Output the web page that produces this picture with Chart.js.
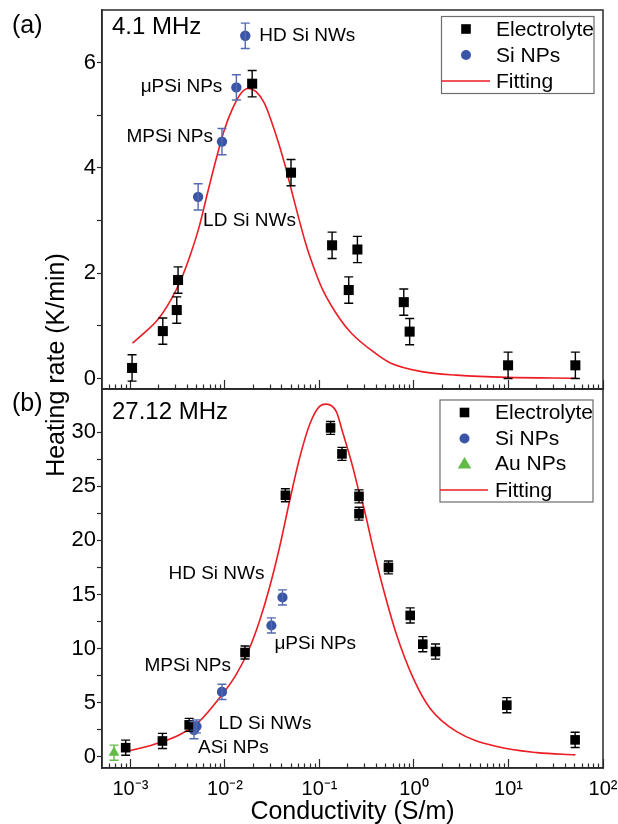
<!DOCTYPE html>
<html>
<head>
<meta charset="utf-8">
<script src="https://cdn.jsdelivr.net/npm/chart.js@4.4.0/dist/chart.umd.min.js"></script>
<style>
  html, body { margin: 0; padding: 0; background: #fff; overflow: hidden; }
  .wrap { position: relative; width: 618px; height: 824px; }
  .wrap canvas { position: absolute; left: 0; top: 0; }
</style>
</head>
<body>
<div class="wrap">
  <canvas id="chartA" width="618" height="824" style="width:618px;height:824px"></canvas>
  <canvas id="chartB" width="618" height="824" style="width:618px;height:824px"></canvas>
</div>
<script>
// panel (a) 4.1 MHz
const elecA_x = [0.00104, 0.0022, 0.00309, 0.00319, 0.0194, 0.050, 0.136, 0.204, 0.252, 0.78, 0.90, 9.9, 51];
const elecA_y = [0.20, 0.90, 1.30, 1.87, 5.60, 3.91, 2.53, 1.68, 2.45, 1.45, 0.89, 0.25, 0.25];
const elecA_err = [0.25, 0.25, 0.25, 0.25, 0.25, 0.25, 0.25, 0.25, 0.25, 0.25, 0.25, 0.25, 0.25];

const siA_names = ['LD Si NWs', 'MPSi NPs', 'μPSi NPs', 'HD Si NWs'];
const siA_x = [0.0052, 0.0093, 0.0132, 0.0164];
const siA_y = [3.45, 4.50, 5.53, 6.51];
const siA_err = [0.25, 0.25, 0.24, 0.24];

const fitA_x = [0.00105, 0.00139, 0.00193, 0.00267, 0.00341, 0.00436, 0.00533, 0.00653, 0.00802, 0.00984,
  0.01205, 0.01479, 0.01766, 0.02133, 0.02612, 0.03334, 0.04266, 0.05445, 0.07244, 0.09247,
  0.1086, 0.1633, 0.2178, 0.369, 0.5546, 1.253, 2.831, 9.616, 52.5];
const fitA_y = [0.67, 0.86, 1.11, 1.49, 1.87, 2.38, 2.88, 3.52, 4.15, 4.72,
  5.13, 5.42, 5.51, 5.45, 5.23, 4.72, 4.09, 3.35, 2.53, 1.98,
  1.68, 1.14, 0.86, 0.51, 0.30, 0.125, 0.063, 0.02, 0.005];

// panel (b) 27.12 MHz
const elecB_x = [0.00089, 0.00218, 0.00418, 0.0163, 0.0436, 0.131, 0.173, 0.262, 0.262, 0.537, 0.912, 1.24, 1.69, 9.6, 50.7];
const elecB_y = [0.83, 1.45, 2.94, 9.63, 24.17, 30.4, 28.0, 24.07, 22.47, 17.5, 13.06, 10.4, 9.72, 4.76, 1.55];
const elecB_err = [0.7, 0.7, 0.6, 0.6, 0.6, 0.6, 0.6, 0.6, 0.6, 0.6, 0.7, 0.7, 0.7, 0.7, 0.7];

const siB_names = ['ASi NPs', 'LD Si NWs', 'MPSi NPs', 'μPSi NPs', 'HD Si NWs'];
const siB_x = [0.0047, 0.0050, 0.0093, 0.031, 0.0406];
const siB_y = [2.45, 2.8, 5.99, 12.13, 14.72];
const siB_err = [0.8, 0.6, 0.7, 0.7, 0.7];

const auB_x = [0.00067];
const auB_y = [0.37];
const auB_err = [0.7];

const fitB_x = [0.000889, 0.001702, 0.003273, 0.005333, 0.00871, 0.01309, 0.01811, 0.02312, 0.02951, 0.03767,
  0.04819, 0.06152, 0.07852, 0.1002, 0.118, 0.1507, 0.1746, 0.2265, 0.2618, 0.2891,
  0.369, 0.471, 0.6531, 0.9817, 1.476, 2.831, 7.534, 20.04, 51.05];
const fitB_y = [0.46, 1.08, 2.0, 3.24, 5.4, 7.56, 10.0, 12.5, 15.6, 19.3,
  23.6, 27.6, 30.7, 32.4, 32.6, 31.9, 30.1, 26.7, 24.5, 23.3,
  19.3, 15.6, 11.3, 7.26, 4.48, 2.31, 0.93, 0.37, 0.16];

// ticks
const xDecades = [1e-3, 1e-2, 1e-1, 1, 10, 100];
const xTickLabels = ['10⁻³', '10⁻²', '10⁻¹', '10⁰', '10¹', '10²'];
const yTicksA = [0, 1, 2, 3, 4, 5, 6];
const yLabelsA = [0, 2, 4, 6];
const yTicksB = [0, 2.5, 5, 7.5, 10, 12.5, 15, 17.5, 20, 22.5, 25, 27.5, 30];
const yLabelsB = [0, 5, 10, 15, 20, 25, 30];

const FONT = "'Liberation Sans', Arial, sans-serif";
const BLUE = '#3a55a6';
const BLUE_BAR = '#5469b3';
const GREEN = '#62bb46';
const RED = '#ec1c24';
const AXIS = '#2a2a2a';

Chart.defaults.font.family = FONT;
Chart.defaults.color = '#000';

const pts = (xs, ys) => xs.map((x, i) => ({x: x, y: ys[i]}));

// minor + major ticks of the log axis
const xTickVals = [];
for (let d = -4; d <= 2; d++) {
    for (let k = 1; k <= 9; k++) {
        const v = k * Math.pow(10, d);
        if (v >= 5.5e-4 && v <= 100.0001) xTickVals.push(v);
    }
}
const isDecade = v => Math.abs(Math.log10(v) - Math.round(Math.log10(v))) < 1e-9;

//планки погрешностей
const errorBars = {
    id: 'errorBars',
    afterDatasetsDraw(chart) {
        const ctx = chart.ctx;
        const xs = chart.scales.x, ys = chart.scales.y;
        chart.data.datasets.forEach(ds => {
            if (!ds.errors) return;
            ctx.save();
            ctx.strokeStyle = ds.errorColor;
            ctx.lineWidth = 1.4;
            ds.data.forEach((p, j) => {
                const x = xs.getPixelForValue(p.x);
                const t = ys.getPixelForValue(p.y + ds.errors[j]);
                const b = ys.getPixelForValue(p.y - ds.errors[j]);
                ctx.beginPath();
                ctx.moveTo(x, t); ctx.lineTo(x, b);
                ctx.moveTo(x - 4.5, t); ctx.lineTo(x + 4.5, t);
                ctx.moveTo(x - 4.5, b); ctx.lineTo(x + 4.5, b);
                ctx.stroke();
            });
            ctx.restore();
        });
    }
};

// рамка, подписи, легенда
const decor = {
    id: 'decor',
    afterDraw(chart, args, o) {
        const ctx = chart.ctx;
        const a = chart.chartArea;
        const xs = chart.scales.x, ys = chart.scales.y;
        ctx.save();
        ctx.strokeStyle = AXIS;
        ctx.lineWidth = 1.5;
        ctx.strokeRect(a.left, a.top, a.right - a.left, a.bottom - a.top);

        ctx.fillStyle = '#000';
        ctx.textBaseline = 'middle';
        ctx.textAlign = 'left';
        ctx.font = '25px ' + FONT;
        ctx.fillText(o.panel, 12, o.panelY);
        ctx.font = '24px ' + FONT;
        ctx.fillText(o.freq, 112, o.freqY);

        if (o.yTitle) {
            ctx.save();
            ctx.translate(57, 365);
            ctx.rotate(-Math.PI / 2);
            ctx.textAlign = 'center';
            ctx.font = '25px ' + FONT;
            ctx.fillText(o.yTitle, 0, 0);
            ctx.restore();
        }

        // point labels
        ctx.font = '19px ' + FONT;
        const ds = chart.data.datasets[o.namedSet];
        o.names.forEach((name, i) => {
            const p = ds.data[i];
            const off = o.offsets[i];
            ctx.textAlign = off[2];
            ctx.fillText(name, xs.getPixelForValue(p.x) + off[0], ys.getPixelForValue(p.y) + off[1]);
        });

        // legend
        const L = o.legend;
        ctx.strokeStyle = '#6d6d6d';
        ctx.lineWidth = 1.2;
        ctx.strokeRect(L.x0, L.y0, L.x1 - L.x0, L.y1 - L.y0);
        ctx.font = '21px ' + FONT;
        ctx.textAlign = 'left';
        L.items.forEach((it, i) => {
            const y = L.rows[i];
            const mx = L.mx;
            if (it.kind === 'rect') {
                ctx.fillStyle = '#000';
                ctx.fillRect(mx - 4.8, y - 4.8, 9.6, 9.6);
            } else if (it.kind === 'circle') {
                ctx.fillStyle = BLUE;
                ctx.beginPath(); ctx.arc(mx, y, 5, 0, Math.PI * 2); ctx.fill();
            } else if (it.kind === 'triangle') {
                ctx.fillStyle = GREEN;
                ctx.beginPath();
                ctx.moveTo(mx, y - 6.5); ctx.lineTo(mx + 6.8, y + 5); ctx.lineTo(mx - 6.8, y + 5);
                ctx.closePath(); ctx.fill();
            } else {
                ctx.strokeStyle = RED;
                ctx.lineWidth = 1.6;
                ctx.beginPath(); ctx.moveTo(L.x0, y); ctx.lineTo(L.lineEnd, y); ctx.stroke();
            }
            ctx.fillStyle = '#000';
            ctx.fillText(it.label, L.tx, y + 1);
        });
        ctx.restore();
    }
};

function xScale(showLabels, height) {
    return {
        type: 'logarithmic',
        position: 'bottom',
        min: 5e-4,
        max: 100,
        afterBuildTicks: s => { s.ticks = xTickVals.map(v => ({value: v})); },
        afterFit: s => { s.height = height; s.paddingLeft = 0; s.paddingRight = 0; },
        border: {display: true, color: AXIS, width: 1.5},
        grid: {
            drawOnChartArea: false,
            drawTicks: true,
            tickLength: -9,
            tickWidth: 1.2,
            tickColor: AXIS,
            tickBorderDash: c => (c.tick && isDecade(c.tick.value)) ? [] : [5, 40]
        },
        ticks: {
            display: showLabels,
            autoSkip: false,
            maxRotation: 0,
            minRotation: 0,
            padding: 18,
            font: {size: 20},
            color: '#000',
            callback: v => {
                const i = xDecades.findIndex(d => Math.abs(d - v) / d < 1e-9);
                return i >= 0 ? xTickLabels[i] : '';
            }
        },
        title: showLabels ? {
            display: true,
            text: 'Conductivity (S/m)',
            font: {size: 25, lineHeight: 0.92},
            color: '#000',
            padding: {top: 0, bottom: 0}
        } : {display: false}
    };
}

function yScale(min, max, ticksList, labelList) {
    return {
        type: 'linear',
        position: 'left',
        min: min,
        max: max,
        afterBuildTicks: s => { s.ticks = ticksList.map(v => ({value: v})); },
        afterFit: s => { s.width = 102; s.paddingTop = 0; s.paddingBottom = 0; },
        border: {display: true, color: AXIS, width: 1.5},
        grid: {
            drawOnChartArea: false,
            drawTicks: true,
            tickLength: 5,
            tickWidth: 1.2,
            tickColor: AXIS
        },
        ticks: {
            autoSkip: false,
            padding: 1,
            font: {size: 22},
            color: '#000',
            callback: v => labelList.includes(v) ? String(v) : ''
        }
    };
}

function scatterSet(label, xs, ys, errs, style, radius, color, barColor) {
    return {
        type: 'scatter',
        label: label,
        data: pts(xs, ys),
        errors: errs,
        errorColor: barColor,
        pointStyle: style,
        pointRadius: radius,
        pointHoverRadius: radius,
        pointBackgroundColor: color,
        pointBorderColor: color,
        pointBorderWidth: 0,
        showLine: false
    };
}

function fitSet(xs, ys) {
    return {
        type: 'line',
        label: 'Fitting',
        data: pts(xs, ys),
        borderColor: RED,
        borderWidth: 1.6,
        pointRadius: 0,
        fill: false,
        cubicInterpolationMode: 'monotone'
    };
}

//панель (a)
const chartA = new Chart(document.getElementById('chartA'), {
    data: {
        datasets: [
            scatterSet('Electrolyte', elecA_x, elecA_y, elecA_err, 'rect', 7.1, '#000', '#000'),
            scatterSet('Si NPs', siA_x, siA_y, siA_err, 'circle', 5.2, BLUE, BLUE_BAR),
            fitSet(fitA_x, fitA_y)
        ]
    },
    options: {
        responsive: false,
        animation: false,
        layout: {padding: {left: 0, top: 10, right: 15, bottom: 429}},
        scales: {
            x: xScale(false, 6),
            y: yScale(-0.2, 7, yTicksA, yLabelsA)
        },
        plugins: {
            legend: {display: false},
            tooltip: {enabled: false},
            decor: {
                panel: '(a)', panelY: 26,
                freq: '4.1 MHz', freqY: 27,
                yTitle: 'Heating rate (K/min)',
                namedSet: 1,
                names: siA_names,
                offsets: [[5, 24, 'left'], [-9, -5, 'right'], [-14, -1, 'right'], [14, 0, 'left']],
                legend: {
                    x0: 441.5, x1: 594, y0: 16.5, y1: 93.5, mx: 466, tx: 496, lineEnd: 490,
                    rows: [29, 55, 81],
                    items: [{label: 'Electrolyte', kind: 'rect'}, {label: 'Si NPs', kind: 'circle'}, {label: 'Fitting', kind: 'line'}]
                }
            }
        }
    },
    plugins: [errorBars, decor]
});

//панель (b)
const chartB = new Chart(document.getElementById('chartB'), {
    data: {
        datasets: [
            scatterSet('Electrolyte', elecB_x, elecB_y, elecB_err, 'rect', 6.8, '#000', '#000'),
            scatterSet('Si NPs', siB_x, siB_y, siB_err, 'circle', 5.1, BLUE, BLUE_BAR),
            scatterSet('Au NPs', auB_x, auB_y, auB_err, 'triangle', 6.2, GREEN, GREEN),
            fitSet(fitB_x, fitB_y)
        ]
    },
    options: {
        responsive: false,
        animation: false,
        layout: {padding: {left: 0, top: 389, right: 15, bottom: 0}},
        scales: {
            x: xScale(true, 56),
            y: yScale(-1.05, 34, yTicksB, yLabelsB)
        },
        plugins: {
            legend: {display: false},
            tooltip: {enabled: false},
            decor: {
                panel: '(b)', panelY: 404,
                freq: '27.12 MHz', freqY: 412,
                yTitle: null,
                namedSet: 1,
                names: siB_names,
                offsets: [[4, 18, 'left'], [22, -3, 'left'], [9, -26, 'right'], [3, 18, 'left'], [-18, -24, 'right']],
                legend: {
                    x0: 440, x1: 593, y0: 400, y1: 502, mx: 464.5, tx: 495, lineEnd: 488,
                    rows: [412.5, 438.5, 463.5, 490],
                    items: [{label: 'Electrolyte', kind: 'rect'}, {label: 'Si NPs', kind: 'circle'},
                        {label: 'Au NPs', kind: 'triangle'}, {label: 'Fitting', kind: 'line'}]
                }
            }
        }
    },
    plugins: [errorBars, decor]
});
</script>
</body>
</html>
